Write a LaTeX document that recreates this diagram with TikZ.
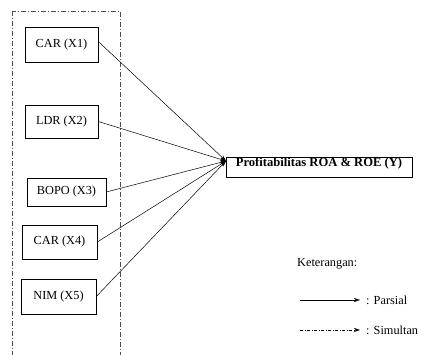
\documentclass[tikz,border=0pt]{standalone}
\usepackage{fontspec}
\setmainfont{Liberation Serif}
\usetikzlibrary{arrows.meta}
\begin{document}
\begin{tikzpicture}[x=1pt,y=1pt,
  var/.style={draw, line width=0.6pt, inner sep=0pt, font=\fontsize{12.3}{14}\selectfont},
  arr/.style={-{Stealth[length=6pt,width=4pt]}, line width=0.5pt},
  dd/.style={dash pattern=on 5pt off 2pt on 1pt off 2pt, line width=0.5pt, draw=black!70},
  lab/.style={font=\fontsize{12.3}{14}\selectfont, inner sep=0pt}]
\useasboundingbox (0,0) rectangle (426,355);
\clip (0,0) rectangle (426,355);
\draw[dd] (12,344) rectangle (120,-5);
\node[var, minimum width=73pt, minimum height=35pt] (x1) at (61.5,310.5) {CAR (X1)};
\node[var, minimum width=73pt, minimum height=33pt] (x2) at (61.5,233.5) {LDR (X2)};
\node[var, minimum width=79pt, minimum height=28pt] (x3) at (66.5,163) {BOPO (X3)};
\node[var, minimum width=75pt, minimum height=34pt] (x4) at (59.5,113) {CAR (X4)};
\node[var, minimum width=75pt, minimum height=35pt] (x5) at (58.5,58.5) {NIM (X5)};
\node[var, font=\bfseries\fontsize{12.6}{14}\selectfont, minimum width=186pt, inner sep=2pt, text height=8pt, text depth=8pt] (y) at (319,188) {Profitabilitas ROA \& ROE (Y)};
\coordinate (t) at (226,194);
\draw[arr] ([yshift=3pt]x1.east) -- (t);
\draw[arr] (x2.east) -- (t);
\draw[arr] (x3.east) -- (t);
\draw[arr] (x4.east) -- (t);
\draw[arr] (x5.east) -- (t);
\node[lab, anchor=west] (ket) at (297,91) {Keterangan:};
\coordinate (p1) at (300,55);
\coordinate (p2) at (360,55);
\draw[arr] (p1) -- (p2);
\node[lab, anchor=west] (par) at (366,55) {: Parsial};
\coordinate (s1) at (300,25);
\coordinate (s2) at (360,25);
\draw[-{Stealth[length=6pt,width=4pt]}, dash pattern=on 3pt off 1.5pt on 1pt off 1.5pt, line width=0.5pt] (s1) -- (s2);
\node[lab, anchor=west] (sim) at (366,25) {: Simultan};
\end{tikzpicture}
\end{document}
